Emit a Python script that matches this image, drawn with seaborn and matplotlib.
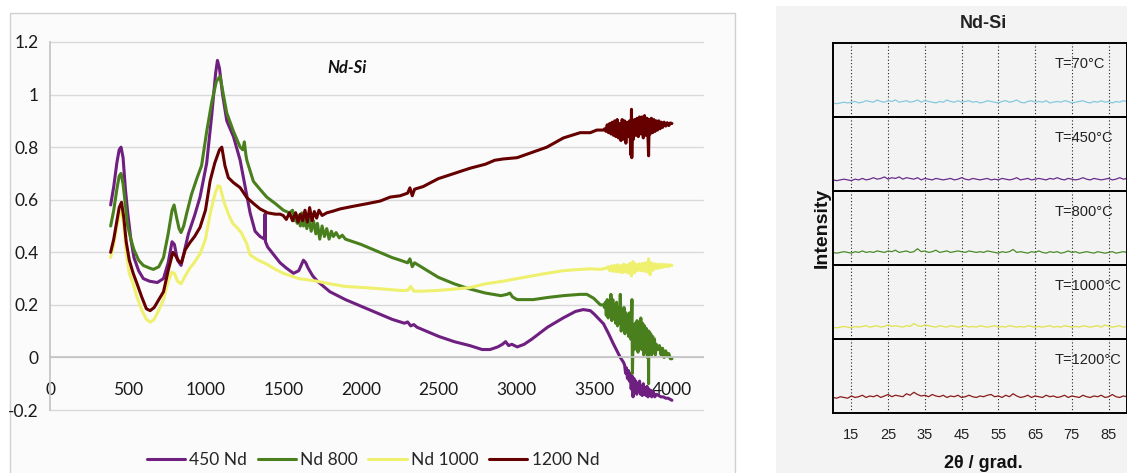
import numpy as np
import pandas as pd
import matplotlib
matplotlib.use("Agg")
import matplotlib.pyplot as plt
from matplotlib.patches import Rectangle
from matplotlib.lines import Line2D
from matplotlib.ticker import FuncFormatter, MultipleLocator
import seaborn as sns

# ---- FTIR spectra (left chart) ----
x_450 = [390, 410, 430, 445, 457, 470, 485, 500, 520, 540, 570, 600, 640, 690, 730, 760, 785, 800,
         820, 843, 870, 890, 930, 965, 1008, 1040, 1065, 1077, 1090, 1110, 1137, 1180, 1223, 1255,
         1287, 1319, 1351, 1380, 1383, 1386, 1400, 1440, 1480, 1520, 1566, 1600, 1615, 1630, 1645,
         1660, 1690, 1720, 1760, 1800, 1850, 1900, 2000, 2100, 2200, 2280, 2300, 2320, 2340, 2360,
         2400, 2500, 2600, 2700, 2780, 2830, 2880, 2910, 2930, 2950, 2970, 3005, 3050, 3100, 3200,
         3300, 3380, 3430, 3475, 3500, 3540, 3560, 3593, 3625, 3668, 3690,
         3696, 3702, 3708, 3714, 3720, 3726, 3732, 3738, 3744, 3750, 3756, 3762, 3768, 3774, 3780,
         3786, 3792, 3798, 3804, 3810, 3816, 3822, 3828, 3834, 3840, 3846, 3852, 3858, 3864, 3870,
         3880, 3890, 3900, 3915, 3930, 3945, 3960, 3975, 3990, 4000]
y_450 = [0.58, 0.65, 0.74, 0.79, 0.80, 0.76, 0.64, 0.55, 0.45, 0.38, 0.33, 0.30, 0.29, 0.285, 0.30,
         0.36, 0.44, 0.43, 0.37, 0.35, 0.42, 0.47, 0.54, 0.61, 0.74, 0.92, 1.08, 1.13, 1.10, 1.00,
         0.90, 0.84, 0.75, 0.65, 0.55, 0.48, 0.46, 0.45, 0.545, 0.44, 0.42, 0.39, 0.36, 0.34, 0.32,
         0.33, 0.35, 0.37, 0.36, 0.34, 0.31, 0.29, 0.27, 0.25, 0.235, 0.22, 0.195, 0.17, 0.145, 0.13,
         0.135, 0.12, 0.125, 0.115, 0.105, 0.08, 0.06, 0.045, 0.03, 0.03, 0.04, 0.05, 0.06, 0.045,
         0.05, 0.04, 0.05, 0.07, 0.115, 0.15, 0.175, 0.182, 0.178, 0.165, 0.14, 0.128, 0.09, 0.05,
         0.0, -0.02,
         -0.03, -0.06, -0.04, -0.08, -0.05, -0.09, -0.06, -0.12, -0.07, -0.15,
         -0.08, -0.13, -0.09, -0.14, -0.10, -0.13, -0.09, -0.14, -0.11, -0.145,
         -0.10, -0.14, -0.115, -0.145, -0.11, -0.15, -0.12, -0.145, -0.125, -0.15,
         -0.13, -0.15, -0.14, -0.145, -0.15, -0.15, -0.155, -0.155, -0.16, -0.163]

x_800 = [390, 410, 430, 445, 457, 470, 485, 500, 520, 540, 570, 600, 640, 665, 700, 730, 760, 785,
         798, 815, 830, 843, 860, 880, 910, 944, 975, 1008, 1040, 1070, 1094, 1115, 1137, 1180, 1223,
         1240, 1250, 1260, 1266, 1308, 1350, 1394, 1450, 1501, 1540, 1560, 1570, 1580, 1590, 1600,
         1610, 1620, 1630, 1640, 1652, 1665, 1680, 1695, 1710, 1720, 1735, 1750, 1765, 1780, 1795,
         1810, 1823, 1840, 1860, 1880, 1900, 1950, 2000, 2100, 2200, 2252, 2300, 2315, 2330, 2345,
         2400, 2497, 2600, 2703, 2800, 2900, 2940, 2958, 2975, 3005, 3108, 3200, 3302, 3410, 3453,
         3497, 3540, 3560,
         3566, 3572, 3578, 3584, 3590, 3596, 3602, 3608, 3614, 3620, 3626, 3632, 3638, 3644, 3650,
         3656, 3662, 3668, 3674, 3680, 3686, 3692, 3698, 3704, 3710, 3716, 3722, 3728, 3734, 3740,
         3743, 3746, 3752, 3758, 3764, 3770, 3776, 3782, 3788, 3794, 3800, 3806, 3812, 3818, 3824,
         3830, 3836, 3842, 3848, 3850, 3852, 3858, 3864, 3870, 3876, 3882, 3888, 3894, 3900, 3910,
         3920, 3930, 3940, 3950, 3960, 3970, 3980, 3990, 4000]
y_800 = [0.50, 0.56, 0.64, 0.69, 0.70, 0.66, 0.58, 0.50, 0.45, 0.41, 0.37, 0.35, 0.34, 0.335, 0.345,
         0.38, 0.47, 0.56, 0.58, 0.53, 0.49, 0.475, 0.50, 0.55, 0.62, 0.68, 0.73, 0.86, 0.97, 1.05,
         1.07, 1.00, 0.93, 0.86, 0.80, 0.79, 0.82, 0.77, 0.75, 0.67, 0.64, 0.61, 0.585, 0.56, 0.55,
         0.56, 0.52, 0.55, 0.51, 0.54, 0.50, 0.55, 0.50, 0.53, 0.49, 0.53, 0.48, 0.52, 0.47, 0.51,
         0.45, 0.50, 0.46, 0.49, 0.45, 0.48, 0.46, 0.475, 0.455, 0.465, 0.45, 0.44, 0.43, 0.405, 0.38,
         0.37, 0.36, 0.375, 0.345, 0.36, 0.34, 0.305, 0.28, 0.26, 0.245, 0.235, 0.24, 0.245, 0.23,
         0.22, 0.22, 0.228, 0.235, 0.24, 0.24, 0.225, 0.20, 0.20,
         0.19, 0.21, 0.16, 0.22, 0.15, 0.21, 0.17, 0.24, 0.14, 0.22,
         0.15, 0.20, 0.13, 0.21, 0.12, 0.19, 0.13, 0.24, 0.10, 0.18,
         0.11, 0.19, 0.09, 0.17, 0.10, 0.16, 0.08, 0.17, 0.07, 0.14,
         0.22, -0.06,
         0.12, 0.03, 0.13, 0.04, 0.14, 0.02, 0.12, 0.05, 0.15, 0.03, 0.13, 0.01, 0.12, 0.02, 0.11,
         0.00, 0.10,
         -0.10, 0.10,
         0.02, 0.09, 0.01, 0.08, 0.02, 0.07, 0.01, 0.05,
         0.03, 0.045, 0.01, 0.035, 0.0, 0.025, 0.005, 0.015, -0.005, -0.005]

x_1000 = [390, 410, 430, 445, 460, 475, 490, 510, 535, 560, 590, 620, 645, 670, 700, 730, 760, 783,
          800, 820, 843, 870, 900, 922, 965, 1000, 1030, 1060, 1080, 1094, 1120, 1147, 1175, 1201,
          1230, 1266, 1287, 1340, 1394, 1450, 1500, 1600, 1716, 1800, 1900, 2040, 2150, 2252, 2300,
          2320, 2340, 2400, 2497, 2600, 2703, 2800, 2915, 3005, 3100, 3196, 3300, 3410, 3475, 3540,
          3580,
          3590, 3600, 3610, 3620, 3630, 3640, 3650, 3660, 3670, 3680,
          3690, 3700, 3710, 3720, 3730, 3740, 3750, 3760, 3770, 3780,
          3790, 3800, 3810, 3820, 3830, 3840, 3850, 3860, 3870, 3880,
          3890, 3900, 3910, 3920, 3930, 3940, 3950, 3960, 3970, 3980, 3990, 4000]
y_1000 = [0.38, 0.43, 0.50, 0.54, 0.558, 0.50, 0.40, 0.32, 0.28, 0.23, 0.18, 0.145, 0.134, 0.145,
          0.18, 0.22, 0.29, 0.324, 0.32, 0.29, 0.28, 0.31, 0.34, 0.356, 0.394, 0.45, 0.546, 0.62,
          0.653, 0.65, 0.59, 0.546, 0.51, 0.495, 0.475, 0.432, 0.39, 0.37, 0.355, 0.335, 0.32, 0.30,
          0.29, 0.28, 0.27, 0.265, 0.26, 0.255, 0.255, 0.27, 0.252, 0.252, 0.255, 0.26, 0.266, 0.28,
          0.29, 0.30, 0.31, 0.32, 0.33, 0.335, 0.337, 0.335, 0.34,
          0.345, 0.33, 0.348, 0.328, 0.35, 0.326, 0.352, 0.325, 0.35, 0.322,
          0.355, 0.325, 0.352, 0.32, 0.358, 0.31, 0.365, 0.322, 0.355, 0.33,
          0.356, 0.33, 0.358, 0.328, 0.36, 0.325, 0.375, 0.315, 0.36, 0.332,
          0.356, 0.338, 0.355, 0.34, 0.355, 0.342, 0.354, 0.345, 0.353, 0.346, 0.352, 0.35]

x_1200 = [390, 410, 430, 445, 460, 475, 490, 510, 535, 560, 590, 620, 644, 670, 700, 730, 760, 790,
          810, 830, 845, 870, 900, 930, 965, 1000, 1030, 1060, 1090, 1105, 1125, 1147, 1180, 1223,
          1266, 1310, 1351, 1400, 1450, 1480, 1500, 1520, 1540, 1560, 1580, 1595, 1610, 1625, 1640,
          1655, 1670, 1685, 1700, 1715, 1730, 1750, 1780, 1823, 1866, 1950, 2040, 2124, 2188, 2252,
          2300, 2315, 2330, 2345, 2400, 2497, 2600, 2703, 2800, 2860, 2915, 3005, 3100, 3196, 3302,
          3410, 3475, 3517, 3560,
          3568, 3576, 3584, 3592, 3600, 3608, 3616, 3624, 3632, 3640, 3648, 3656, 3664, 3672, 3680,
          3688, 3696, 3704, 3712, 3720, 3728, 3736, 3740, 3742, 3746, 3752, 3760, 3768, 3776, 3784,
          3792, 3800, 3808, 3816, 3824, 3832, 3840, 3846, 3850, 3854, 3860, 3868, 3876, 3884, 3892,
          3900, 3908, 3916, 3924, 3932, 3940, 3950, 3960, 3970, 3980, 3990, 4000]
y_1200 = [0.40, 0.45, 0.52, 0.57, 0.59, 0.53, 0.44, 0.37, 0.32, 0.28, 0.23, 0.185, 0.178, 0.19,
          0.22, 0.25, 0.33, 0.40, 0.385, 0.365, 0.36, 0.41, 0.437, 0.46, 0.495, 0.56, 0.672, 0.74,
          0.79, 0.80, 0.73, 0.684, 0.665, 0.646, 0.608, 0.585, 0.565, 0.55, 0.545, 0.545, 0.54, 0.525,
          0.55, 0.52, 0.55, 0.515, 0.545, 0.52, 0.56, 0.515, 0.57, 0.52, 0.555, 0.53, 0.56, 0.54,
          0.55, 0.557, 0.565, 0.575, 0.585, 0.595, 0.61, 0.615, 0.625, 0.645, 0.615, 0.64, 0.65, 0.68,
          0.70, 0.72, 0.735, 0.75, 0.755, 0.76, 0.78, 0.80, 0.835, 0.855, 0.855, 0.865, 0.865,
          0.87, 0.86, 0.885, 0.855, 0.89, 0.85, 0.895, 0.845, 0.90, 0.84,
          0.905, 0.835, 0.89, 0.825, 0.905, 0.83, 0.90, 0.815, 0.895, 0.84,
          0.90, 0.77, 0.944, 0.76, 0.90, 0.83, 0.905, 0.845, 0.91, 0.84,
          0.915, 0.85, 0.915, 0.835, 0.92, 0.845, 0.91, 0.84, 0.767, 0.905,
          0.85, 0.91, 0.855, 0.905, 0.86, 0.90, 0.865, 0.90, 0.87, 0.895,
          0.875, 0.895, 0.88, 0.893, 0.882, 0.892, 0.89]

series_names = ["450 Nd", "Nd 800", "Nd 1000", "1200 Nd"]
series_colors = ["#6e1f80", "#4a7f1e", "#eef06e", "#660000"]

# ---- XRD patterns (right panel), intensity in panel units 0-100 ----
xrd_labels = ["T=70°C", "T=450°C", "T=800°C", "T=1000°C", "T=1200°C"]
xrd_colors = ["#86c9e0", "#6b2c8f", "#4a8a2a", "#e2e24a", "#8a1c1c"]
xrd_70 = [19, 18, 19, 20, 19, 20, 21, 19, 20, 22, 21, 20, 23, 21, 20, 22, 21, 23, 20, 21,
          22, 20, 21, 23, 20, 22, 21, 20, 19, 21, 20, 23, 21, 20, 22, 20, 21, 22, 20, 21,
          19, 20, 22, 21, 20, 19, 21, 22, 20, 21, 23, 20, 19, 21, 22, 20, 21, 20, 22, 19,
          20, 21, 20, 22, 21, 19, 20, 21, 22, 20, 19, 21, 20, 22, 20, 21, 19, 21, 20, 22, 21]
xrd_450 = [15, 14, 15, 16, 15, 14, 16, 15, 17, 15, 16, 18, 16, 17, 19, 16, 18, 17, 19, 16,
           18, 17, 16, 18, 15, 17, 16, 15, 17, 16, 15, 16, 17, 15, 16, 18, 16, 15, 17, 16,
           15, 16, 17, 15, 16, 15, 17, 16, 15, 16, 18, 15, 16, 17, 15, 16, 17, 16, 15, 17,
           16, 18, 16, 15, 17, 16, 15, 16, 18, 16, 15, 17, 16, 15, 16, 17, 15, 16, 18, 16, 17]
xrd_800 = [17, 16, 17, 18, 17, 16, 18, 17, 19, 17, 18, 17, 19, 18, 17, 19, 18, 20, 17, 18,
           19, 17, 18, 22, 18, 19, 17, 18, 20, 17, 18, 19, 17, 18, 19, 18, 17, 19, 18, 17,
           18, 17, 19, 18, 17, 16, 18, 17, 18, 21, 17, 18, 17, 16, 18, 17, 19, 17, 16, 18,
           17, 18, 16, 17, 19, 17, 18, 16, 17, 18, 17, 16, 18, 17, 16, 17, 18, 16, 17, 18, 17]
xrd_1000 = [16, 15, 16, 17, 16, 15, 17, 16, 17, 18, 16, 17, 18, 16, 17, 19, 17, 18, 17, 16,
            18, 17, 21, 18, 17, 19, 18, 17, 16, 18, 17, 16, 18, 17, 16, 17, 18, 16, 17, 16,
            18, 17, 16, 17, 18, 16, 17, 16, 18, 17, 16, 17, 16, 18, 17, 16, 17, 16, 17, 18,
            16, 17, 16, 18, 17, 16, 17, 16, 18, 17, 16, 17, 18, 16, 19, 17, 16, 17, 18, 16, 17]
xrd_1200 = [21, 20, 22, 21, 20, 23, 21, 22, 24, 21, 23, 22, 24, 21, 23, 25, 22, 24, 23, 22,
            26, 24, 28, 25, 23, 24, 22, 25, 23, 22, 24, 21, 23, 22, 24, 21, 22, 24, 22, 21,
            23, 22, 24, 25, 22, 23, 21, 24, 22, 26, 23, 21, 22, 24, 21, 23, 22, 21, 24, 22,
            23, 21, 22, 24, 21, 23, 22, 21, 24, 22, 21, 23, 22, 24, 21, 22, 25, 22, 21, 23, 22]
xrd_values = [xrd_70, xrd_450, xrd_800, xrd_1000, xrd_1200]

sns.set_theme(style="white")
plt.rcParams['font.family'] = ['Lato', 'DejaVu Sans']
narrow = ['Liberation Sans Narrow', 'Liberation Sans', 'DejaVu Sans']

W, H = 1127, 473
fig = plt.figure(figsize=(W / 100, H / 100), dpi=100)
fig.patch.set_facecolor('white')

# chart-area frame of the left chart and grey backdrop of the right figure
fig.patches.append(Rectangle((10 / W, -0.02), 725 / W, 1 - 13 / H + 0.02, transform=fig.transFigure,
                             facecolor='#fbfbfb', edgecolor='#d0d0d0', lw=1, zorder=-5))
fig.patches.append(Rectangle((776 / W, 0), 351 / W, 1 - 6 / H, transform=fig.transFigure,
                             facecolor='#f3f3f3', edgecolor='none', zorder=-5))

# ---- left chart ----
frames = []
for name, xs, ys in zip(series_names, [x_450, x_800, x_1000, x_1200], [y_450, y_800, y_1000, y_1200]):
    frames.append(pd.DataFrame({'x': xs, 'y': ys, 'series': name}))
ftir = pd.concat(frames, ignore_index=True)

ax = fig.add_axes([50 / W, 1 - 410 / H, 653 / W, 368 / H])
ax.set_facecolor('none')
sns.lineplot(data=ftir, x='x', y='y', hue='series', hue_order=series_names,
             palette=dict(zip(series_names, series_colors)), estimator=None, sort=False,
             lw=2.2, legend=False, ax=ax)
ax.set_xlim(0, 4200)
ax.set_ylim(-0.2, 1.2)
ax.set_xticks(range(0, 4001, 500))
ax.yaxis.set_major_locator(MultipleLocator(0.2))
ax.yaxis.set_major_formatter(FuncFormatter(lambda v, p: f"{v:g}".replace("−", "-")))
ax.yaxis.grid(True, color='#d9d9d9', lw=1)
ax.xaxis.grid(False)
for gl in ax.get_ygridlines():
    gl.set_clip_on(False)
for s in ['top', 'right']:
    ax.spines[s].set_visible(False)
ax.spines['left'].set_color('#c4c4c4')
ax.spines['bottom'].set_position(('data', 0))
ax.spines['bottom'].set_color('#c4c4c4')
ax.tick_params(axis='x', direction='out', length=5, width=1, color='#c4c4c4', pad=13,
               labelsize=12.5, labelcolor='#1a1a1a')
ax.tick_params(axis='y', length=0, pad=8, labelsize=12.5, labelcolor='#1a1a1a')
ax.set_xlabel('')
ax.set_ylabel('')
ax.text(1910, 1.10, 'Nd-Si', fontsize=12, fontweight='bold', style='italic',
        ha='center', va='center', color='#111111')

handles = [Line2D([0], [0], color=c, lw=2.2) for c in series_colors]
fig.legend(handles, series_names, loc='center', bbox_to_anchor=(373 / W, 1 - 460 / H), ncol=4,
           frameon=False, fontsize=12.5, handlelength=2.2, handletextpad=0.25, columnspacing=0.6)

# ---- right figure: stacked XRD panels ----
top = 1 - 43 / H
ph = 74 / H
for i, (vals, lab, col) in enumerate(zip(xrd_values, xrd_labels, xrd_colors)):
    axr = fig.add_axes([833 / W, top - (i + 1) * ph, 294 / W, ph])
    axr.set_facecolor('none')
    two_theta = np.linspace(10, 90, len(vals))
    sns.lineplot(x=two_theta, y=vals, color=col, lw=0.9, estimator=None, ax=axr)
    axr.set_xlim(10, 90)
    axr.set_ylim(0, 100)
    axr.set_yticks([])
    axr.set_xticks(range(15, 90, 10))
    axr.set_xticks(range(10, 91, 10), minor=True)
    axr.xaxis.grid(True, which='major', ls=(0, (1, 2)), color='#222222', lw=0.8)
    for sp in axr.spines.values():
        sp.set_color('black')
        sp.set_linewidth(1.4)
    axr.text(0.755, 0.71, lab, transform=axr.transAxes, ha='left', va='center',
             fontsize=10.5, family=narrow, color='#222222')
    if i < 4:
        axr.tick_params(axis='x', which='both', length=0, labelbottom=False)
    else:
        axr.tick_params(axis='x', which='both', direction='out', length=5, width=1, color='black',
                        pad=6, labelsize=10.5)
        for t in axr.get_xticklabels():
            t.set_family(narrow)
            t.set_color('#222222')

fig.text(983 / W, 1 - 23 / H, 'Nd-Si', ha='center', va='center', fontsize=13,
         fontweight='bold', family=narrow, color='#222222')
fig.text(822 / W, 1 - 228 / H, 'Intensity', ha='center', va='center', rotation=90,
         fontsize=14, fontweight='bold', family=narrow, color='#111111')
fig.text(983 / W, 1 - 463 / H, '2θ / grad.', ha='center', va='center', fontsize=13,
         fontweight='bold', family=narrow, color='#111111')

fig.savefig('out.png', dpi=100, facecolor=fig.get_facecolor())
